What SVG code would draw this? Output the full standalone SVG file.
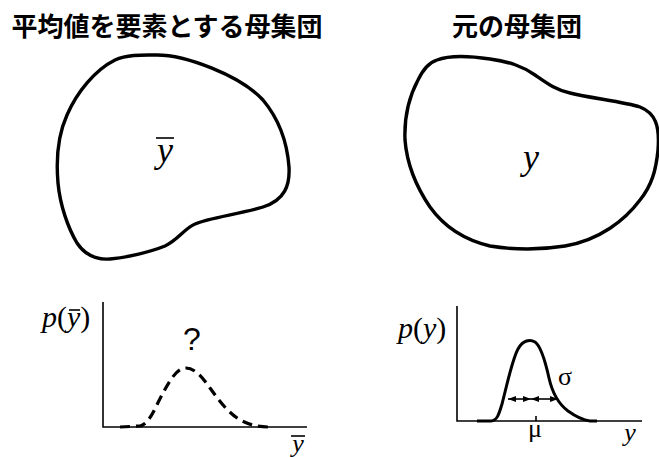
<svg xmlns="http://www.w3.org/2000/svg" width="659" height="457" viewBox="0 0 659 457">
<style>
.title{font-family:"Noto Sans CJK JP","Noto Sans",sans-serif;font-weight:bold;font-size:26px;fill:#000;text-anchor:middle}
.blob{fill:none;stroke:#000;stroke-width:3.4;stroke-linejoin:round}
.axis{fill:none;stroke:#000;stroke-width:1.6}
.bar{stroke:#000;stroke-width:1.6}
</style>
<defs>
<marker id="ah" viewBox="0 0 8 6" refX="8" refY="3" markerWidth="8" markerHeight="6" markerUnits="userSpaceOnUse" orient="auto-start-reverse">
<path d="M0,0 L8,3 L0,6 Z" fill="#000"/>
</marker>
</defs>

<g id="title-left"><text class="title" x="167" y="36">平均値を要素とする母集団</text></g>
<g id="title-right"><text class="title" x="517" y="36">元の母集団</text></g>

<g font-family="'Liberation Serif', 'Times New Roman', serif" fill="#000">
<g id="blob-left">
<path class="blob" d="M157,55 C185,55 240,75 263,100 C278,118 287,140 289,167 C290,185 285,200 263,207 C240,214 208,218 195,224 C185,228 178,240 165,246 C150,252 125,258 110,259 C95,260 85,255 77,243 C68,228 60,205 58,183 C56,160 58,135 67,115 C77,92 95,70 115,60 C128,54 145,55 157,55 Z"/>
<text x="165" y="162" font-size="36" font-style="italic" text-anchor="middle">y</text>
<line class="bar" x1="156" y1="138" x2="174" y2="138"/>
</g>

<g id="blob-right">
<path class="blob" d="M437,60 C450,55 470,56 490,59 C510,62 522,66 535,75 C548,84 556,90 570,93 C590,98 625,102 640,107 C655,113 660,125 658,150 C656,170 652,185 640,200 C625,220 600,240 565,246 C540,250 515,250 490,246 C465,240 445,228 430,207 C415,185 407,165 405,140 C404,115 410,95 418,80 C423,70 428,63 437,60 Z"/>
<text x="531" y="169" font-size="36" font-style="italic" text-anchor="middle">y</text>
</g>

<g id="plot-left">
<path class="axis" d="M103,302 L103,427 L307,427"/>
<path d="M120,427 L140,426 C150,424 156,405 163,393 C170,380 177,368 186,368 C195,368 203,378 210,388 C218,399 226,411 240,420 C248,424 256,427 268,427" fill="none" stroke="#000" stroke-width="3.2" stroke-dasharray="10,6"/>
<text x="42" y="327" font-size="30"><tspan font-style="italic">p</tspan>(<tspan font-style="italic">y</tspan>)</text>
<line class="bar" x1="69" y1="310" x2="80" y2="310"/>
<text x="192" y="350" font-family="'Liberation Sans', Arial, sans-serif" font-size="32" text-anchor="middle">?</text>
<text x="298" y="452" font-size="26" font-style="italic" text-anchor="middle">y</text>
<line class="bar" x1="291" y1="436" x2="305" y2="436"/>
</g>

<g id="plot-right">
<path class="axis" d="M457,306 L457,421 L642,421"/>
<path d="M477,421 L491,421 C497,421 499,414 502,404 C507,385 512,360 518,349 C523,340 530,339 535,342 C541,346 545,360 549,378 C553,396 560,405 568,411 C575,416 582,420 590,421 L597,421" fill="none" stroke="#000" stroke-width="3"/>
<line class="axis" x1="536" y1="416" x2="536" y2="421"/>
<text x="398" y="338" font-size="30"><tspan font-style="italic">p</tspan>(<tspan font-style="italic">y</tspan>)</text>
<text x="535" y="437" font-size="26" text-anchor="middle">μ</text>
<text x="565" y="385" font-size="26" text-anchor="middle">σ</text>
<text x="630" y="441" font-size="26" font-style="italic" text-anchor="middle">y</text>
</g>
</g>

<g id="connectors">
<line x1="508" y1="399" x2="531" y2="399" stroke="#000" stroke-width="1.6" marker-start="url(#ah)" marker-end="url(#ah)"/>
<line x1="531" y1="399" x2="558" y2="399" stroke="#000" stroke-width="1.6" marker-start="url(#ah)" marker-end="url(#ah)"/>
</g>
</svg>
